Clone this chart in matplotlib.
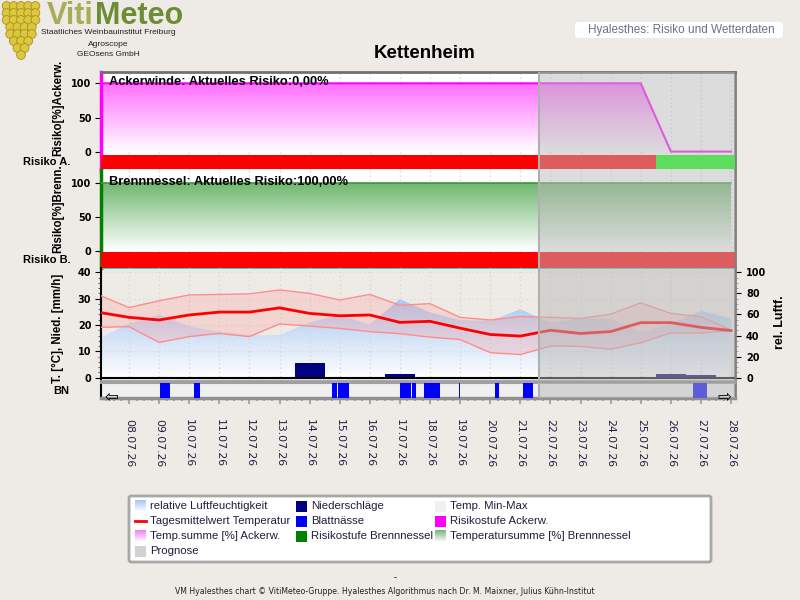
import numpy as np
import pandas as pd
import matplotlib
matplotlib.use("Agg")
import matplotlib.pyplot as plt
from matplotlib.colors import LinearSegmentedColormap
from matplotlib.patches import Rectangle, FancyBboxPatch, Circle

plt.rcParams["font.family"] = ["DejaVu Sans"]

# --- data (day index 0 = 08.07.26, -1 = 07.07.26) ---
dates = pd.date_range("2026-07-08", "2026-07-28", freq="D")
date_labels = list(dates.strftime("%d.%m.%y"))
days = np.arange(-1, 21)

t_mean = [24.8, 22.9, 21.9, 23.8, 24.9, 24.9, 26.5, 24.4, 23.5, 23.8, 21.0,
          21.4, 18.8, 16.4, 15.8, 18.0, 16.8, 17.5, 20.9, 20.9, 19.1, 17.9]
t_max = [31.4, 26.6, 29.2, 31.4, 31.6, 31.8, 33.3, 32.0, 29.5, 31.6, 27.5,
         28.1, 22.9, 21.9, 23.2, 22.9, 22.5, 24.1, 28.4, 24.4, 23.1, 18.1]
t_min = [19.1, 19.4, 13.4, 15.6, 16.8, 15.6, 20.4, 19.6, 18.7, 17.5, 16.7,
         15.4, 14.5, 9.5, 8.8, 12.0, 11.9, 10.8, 13.3, 17.0, 17.0, 17.9]
humidity = [37, 51.5, 59.5, 49, 43.7, 40.5, 40.5, 52.5, 59.5, 50.6, 74.5,
            62, 54.7, 54, 65, 52, 56.6, 55.6, 43, 51, 63.4, 56.3]

precip_day = [6, 9, 18, 19]
precip_mm = [5.7, 1.4, 1.4, 1.0]

# leaf wetness intervals in hours from 08.07.26
bn_start = [25, 52, 162, 167, 216, 226, 235, 263, 292, 314, 450]
bn_end = [33, 57, 166, 175, 225, 229, 248, 264, 295, 322, 461]

ack_sum = [100] * 19 + [1, 1, 1]
ack_stage = ["hoch"] * 19 + ["gering"] * 3
brenn_sum = [100] * 22
brenn_stage = ["hoch"] * 22
stage_colors = {"hoch": "#FF0000", "gering": "#00FF00"}

prognose_start = 327 / 24.0  # 21.07.26 15:00

XLIM = (-0.93, 20.13)
W, H = 800, 600
BG = "#EEEBE6"


def gradient_fill(ax, x, y, color, top, zorder=1):
    poly = ax.fill_between(x, 0, y, facecolor="none", edgecolor="none", zorder=zorder)
    cmap = LinearSegmentedColormap.from_list("grad", ["white", color])
    im = ax.imshow(np.linspace(0, 1, 256).reshape(-1, 1), cmap=cmap, origin="lower",
                   aspect="auto", extent=[x[0], x[-1], 0, top], zorder=zorder,
                   interpolation="bilinear")
    im.set_clip_path(poly.get_paths()[0], transform=ax.transData)


def px_axes(x0, y0, x1, y1):
    return fig.add_axes([x0 / W, 1 - y1 / H, (x1 - x0) / W, (y1 - y0) / H])


def prognose(ax):
    ax.axvspan(prognose_start, XLIM[1] + 1, color="#BABABA", alpha=0.5, lw=0, zorder=10)
    ax.axvline(prognose_start, color="#B0B0B0", lw=1.5, zorder=11)


def day_grid(ax):
    ax.set_xticks(np.arange(0, 21))
    ax.tick_params(axis="x", length=0, labelbottom=False)
    ax.grid(axis="x", color="#D8D8D8", ls=(0, (1, 2)), lw=1)
    ax.set_axisbelow(True)


fig = plt.figure(figsize=(8, 6), dpi=100, facecolor=BG)

# decoration layer in pixel coordinates
deco = fig.add_axes([0, 0, 1, 1], zorder=-5)
deco.set_xlim(0, W)
deco.set_ylim(H, 0)
deco.axis("off")

tick_font = dict(fontsize=7, fontweight="bold")

# --- top panel: Ackerwinde ---
ax_a = px_axes(101, 72, 735, 170)
day_grid(ax_a)
gradient_fill(ax_a, days, ack_sum, "#FF6EFF", 100, zorder=2)
ax_a.plot(days, ack_sum, color="#FF00FF", lw=1.5, zorder=3)
ax_a.bar(days, 20, bottom=-24, width=1.0, color=[stage_colors[s] for s in ack_stage], zorder=4)
prognose(ax_a)
ax_a.set_xlim(XLIM)
ax_a.set_ylim(-25.7, 116.4)
ax_a.set_yticks([0, 50, 100])
ax_a.set_yticklabels(["0", "50", "100"], **tick_font)
ax_a.tick_params(axis="y", length=4, pad=3)
ax_a.spines["left"].set_color("#FF00FF")
ax_a.spines["left"].set_linewidth(2.5)
ax_a.spines["top"].set_color("#707070")
ax_a.spines["top"].set_linewidth(2)
ax_a.spines["right"].set_color("#808080")
ax_a.spines["right"].set_linewidth(2)
ax_a.spines["bottom"].set_color("#33CCCC")
ax_a.text(0.012, 0.9, "Ackerwinde: Aktuelles Risiko:0,00%", transform=ax_a.transAxes,
          family="Liberation Sans", fontweight="bold", fontsize=9.3, va="center", zorder=12)

# --- middle panel: Brennnessel ---
ax_b = px_axes(101, 170, 735, 268)
day_grid(ax_b)
gradient_fill(ax_b, days, brenn_sum, "#70B870", 100, zorder=2)
ax_b.plot(days, brenn_sum, color="#3C963C", lw=1.2, zorder=3)
ax_b.bar(days, 22.5, bottom=-24.5, width=1.0, color=[stage_colors[s] for s in brenn_stage], zorder=4)
prognose(ax_b)
ax_b.set_xlim(XLIM)
ax_b.set_ylim(-25.1, 119.6)
ax_b.set_yticks([0, 50, 100])
ax_b.set_yticklabels(["0", "50", "100"], **tick_font)
ax_b.tick_params(axis="y", length=4, pad=3)
ax_b.spines["left"].set_color("#008000")
ax_b.spines["left"].set_linewidth(2.5)
ax_b.spines["top"].set_visible(False)
ax_b.spines["right"].set_color("#808080")
ax_b.spines["right"].set_linewidth(2)
ax_b.spines["bottom"].set_color("#33CCCC")
ax_b.text(0.012, 0.88, "Brennnessel: Aktuelles Risiko:100,00%", transform=ax_b.transAxes,
          family="Liberation Sans", fontweight="bold", fontsize=9.3, va="center", zorder=12)

# --- bottom panel: weather ---
ax_t = px_axes(101, 268, 735, 381)
ax_h = ax_t.twinx()
ax_t.set_zorder(3)
ax_h.set_zorder(2)
ax_t.patch.set_visible(False)
ax_h.patch.set_facecolor("white")

gradient_fill(ax_h, days, humidity, "#8AB4EA", 100, zorder=1)
ax_h.set_xlim(XLIM)
ax_h.set_ylim(-3.13, 104.1)
ax_h.set_yticks(np.arange(0, 101, 20))
ax_h.set_yticklabels([str(v) for v in range(0, 101, 20)], **tick_font)
ax_h.set_yticks(np.arange(0, 101, 5), minor=True)
ax_h.tick_params(axis="y", which="major", length=4, pad=4)
ax_h.tick_params(axis="y", which="minor", length=2, color="#7799CC")
for s in ("left", "top", "bottom"):
    ax_h.spines[s].set_visible(False)
ax_h.spines["right"].set_color("#808080")
ax_h.spines["right"].set_linewidth(2)

day_grid(ax_t)
ax_t.grid(axis="y", color="#DCDCDC", ls=(0, (1, 2)), lw=1)
ax_t.fill_between(days, t_min, t_max, color="#FF9999", alpha=0.28, lw=0, zorder=2)
ax_t.plot(days, t_max, color="#FF8C8C", lw=1, zorder=3)
ax_t.plot(days, t_min, color="#FF8C8C", lw=1, zorder=3)
ax_t.plot(days, t_mean, color="#FF0000", lw=2, zorder=4)
ax_t.bar(precip_day, precip_mm, width=1.0, color="#000080", zorder=5)
ax_t.axhline(0, color="black", lw=1.5, zorder=6)
prognose(ax_t)
ax_t.set_xlim(XLIM)
ax_t.set_ylim(-1.25, 41.63)
ax_t.set_yticks(np.arange(0, 41, 10))
ax_t.set_yticklabels([str(v) for v in range(0, 41, 10)], **tick_font)
ax_t.set_yticks(np.arange(0, 41, 2), minor=True)
ax_t.tick_params(axis="y", which="major", length=4, pad=3)
ax_t.tick_params(axis="y", which="minor", length=2, color="#555555")
ax_t.spines["left"].set_linewidth(1.5)
ax_t.spines["top"].set_visible(False)
ax_t.spines["right"].set_visible(False)
ax_t.spines["bottom"].set_color("#A0A0A0")
ax_t.spines["bottom"].set_linewidth(2)

# --- leaf wetness strip ---
ax_bn = px_axes(101, 383, 735, 398)
ax_bn.set_facecolor("#F0F0F0")
bn_left = np.array(bn_start) / 24.0
bn_width = (np.array(bn_end) - np.array(bn_start)) / 24.0
ax_bn.bar(bn_left, 1.0, width=bn_width, align="edge", color="#0000FF", zorder=3)
prognose(ax_bn)
ax_bn.set_xlim(XLIM)
ax_bn.set_ylim(0, 1)
ax_bn.set_yticks([])
ax_bn.set_xticks(np.arange(0, 21))
ax_bn.set_xticklabels(date_labels, rotation=-90, fontsize=7.8, color="#202040")
ax_bn.set_xticks(np.arange(-0.75, 20.2, 0.25), minor=True)
ax_bn.tick_params(axis="x", which="major", length=4, width=1.5, color="#A8A8A8", pad=11)
ax_bn.tick_params(axis="x", which="minor", length=2, width=1.5, color="#A8A8A8")
ax_bn.spines["top"].set_color("#A0A0A0")
ax_bn.spines["top"].set_linewidth(1.5)
ax_bn.spines["bottom"].set_color("#909090")
ax_bn.spines["bottom"].set_linewidth(2.5)
ax_bn.spines["left"].set_linewidth(1.5)
ax_bn.spines["right"].set_color("#808080")
ax_bn.spines["right"].set_linewidth(2)

# --- axis labels ---
lab = dict(family="Liberation Sans", fontweight="bold", fontsize=8.3, rotation=90,
           ha="center", va="bottom")
fig.text(58 / W, 1 - 156 / H, "Risiko[%]Ackerw.", **lab)
fig.text(58 / W, 1 - 253 / H, "Risiko[%]Brenn.", **lab)
fig.text(58 / W, 1 - 383 / H, "T. [°C], Nied. [mm/h]", **lab)
fig.text(780 / W, 1 - 322 / H, "rel. Luftf.", family="Liberation Sans", fontweight="bold",
         fontsize=9, rotation=90, ha="center", va="center")
side = dict(family="Liberation Sans", fontweight="bold", fontsize=8, va="center", ha="left")
fig.text(23 / W, 1 - 162 / H, "Risiko A.", **side)
fig.text(23 / W, 1 - 260 / H, "Risiko B.", **side)
fig.text(53 / W, 1 - 391 / H, "BN", **side)

# scroll arrows
fig.text(111 / W, 1 - 397 / H, "\u21e6", fontsize=12, ha="center", va="center")
fig.text(724 / W, 1 - 397 / H, "\u21e8", fontsize=12, ha="center", va="center")

# --- title and header ---
fig.text(425 / W, 1 - 53 / H, "Kettenheim", family="Liberation Sans", fontweight="bold",
         fontsize=13.5, ha="center", va="center")
deco.add_patch(FancyBboxPatch((575, 22), 208, 16, boxstyle="round,pad=0,rounding_size=4",
                              fc="white", ec="none"))
deco.text(681, 30, "Hyalesthes: Risiko und Wetterdaten", family="Liberation Sans",
          fontsize=8.5, color="#707088", ha="center", va="center")

# --- logo ---
rows = [(6, 5), (13, 5), (20, 5), (27, 4), (34, 4), (41, 3), (48, 2), (55, 1)]
for yy, n in rows:
    for k in range(n):
        xx = 21 + (k - (n - 1) / 2) * 7.2
        deco.add_patch(Circle((xx, yy), 4.4, fc="#DCC83C", ec="#A89020", lw=0.6))
deco.text(47, 16, "Viti", family="Liberation Sans", fontweight="bold", fontsize=22,
          color="#A8AC58", va="center", ha="left")
deco.text(95, 16, "Meteo", family="Liberation Sans", fontweight="bold", fontsize=22,
          color="#6E8C34", va="center", ha="left")
for yy, s in [(33, "Staatliches Weinbauinstitut Freiburg"), (44, "Agroscope"), (55, "GEOsens GmbH")]:
    deco.text(108, yy, s, family="Liberation Sans", fontsize=6, ha="center", va="center", color="#202020")

# --- legend ---
deco.add_patch(FancyBboxPatch((129, 496), 582, 66, boxstyle="round,pad=0,rounding_size=2",
                              fc="white", ec="#A8A8A8", lw=2, zorder=1))
legend_items = [
    (135, 506, "grad", "#A8C8F0", "relative Luftfeuchtigkeit"),
    (135, 521, "line", "#FF0000", "Tagesmittelwert Temperatur"),
    (135, 536, "grad", "#F080F0", "Temp.summe [%] Ackerw."),
    (135, 551, "box", "#D2D2D2", "Prognose"),
    (296, 506, "box", "#000080", "Niederschläge"),
    (296, 521, "box", "#0000FF", "Blattnässe"),
    (296, 536, "box", "#008000", "Risikostufe Brennnessel"),
    (435, 506, "box", "#F0F0F0", "Temp. Min-Max"),
    (435, 521, "box", "#FF00FF", "Risikostufe Ackerw."),
    (435, 536, "grad", "#78B478", "Temperatursumme [%] Brennnessel"),
]
for x0, yc, kind, col, txt in legend_items:
    if kind == "line":
        deco.plot([x0, x0 + 11], [yc, yc], color=col, lw=2, zorder=3)
    elif kind == "box":
        deco.add_patch(Rectangle((x0, yc - 5.5), 10.5, 11, fc=col, ec="none", zorder=3))
    else:
        cmap = LinearSegmentedColormap.from_list("lg", ["white", col])
        deco.imshow(np.linspace(1, 0.1, 32).reshape(-1, 1), cmap=cmap, vmin=0, vmax=1,
                    extent=(x0, x0 + 10.5, yc + 5.5, yc - 5.5), aspect="auto", zorder=3)
    deco.text(x0 + 15, yc, txt, family="Liberation Sans", fontsize=8.2, color="#1E1E3C",
              va="center", ha="left", zorder=4)
deco.set_xlim(0, W)
deco.set_ylim(H, 0)

# --- footer ---
fig.text(395 / W, 1 - 578 / H, "-", fontsize=6, ha="center", va="center")
fig.text(385 / W, 1 - 591 / H,
         "VM Hyalesthes chart \u00a9 VitiMeteo-Gruppe. Hyalesthes Algorithmus nach Dr. M. Maixner, Julius K\u00fchn-Institut",
         fontsize=5.6, ha="center", va="center", color="#202020")

fig.savefig("out.png", dpi=100, facecolor=BG)
